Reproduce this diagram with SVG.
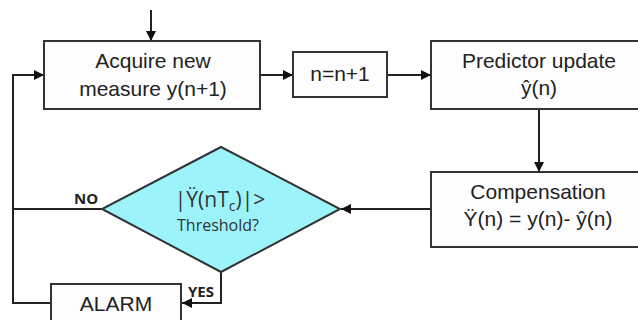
<svg xmlns="http://www.w3.org/2000/svg" width="638" height="320" viewBox="0 0 638 320">
<defs>
<marker id="ah" viewBox="0 0 10 10" refX="10" refY="5" markerWidth="10" markerHeight="10" markerUnits="userSpaceOnUse" orient="auto">
<path d="M0,0 L10,5 L0,10 z" fill="#111"/>
</marker>
</defs>
<style>
.box{fill:#fdfdfd;stroke:#333;stroke-width:2}
.t{font-family:"Liberation Sans",Arial,sans-serif;font-size:21px;fill:#222;text-anchor:middle}
.c{fill:none;stroke:#222;stroke-width:2}
.lb{font-family:"Open Sans","Noto Sans",sans-serif;font-weight:bold;font-size:15px;fill:#222}
.d{font-family:"Open Sans","Noto Sans",sans-serif;fill:#333;text-anchor:middle}
</style>
<rect width="638" height="320" fill="#fff"/>
<g id="connectors">
<line class="c" x1="151" y1="10" x2="151" y2="41" marker-end="url(#ah)"/>
<line class="c" x1="260" y1="75" x2="293" y2="75" marker-end="url(#ah)"/>
<line class="c" x1="387" y1="75" x2="431" y2="75" marker-end="url(#ah)"/>
<line class="c" x1="539" y1="109" x2="539" y2="172" marker-end="url(#ah)"/>
<line class="c" x1="431" y1="209" x2="341" y2="209" marker-end="url(#ah)"/>
<polyline class="c" points="102,209 13,209"/>
<polyline class="c" points="221,272 221,303 182,303" marker-end="url(#ah)"/>
<polyline class="c" points="51,303 13,303 13,75 44,75" marker-end="url(#ah)"/>
<text class="lb" x="74" y="204">NO</text>
<text class="lb" x="188" y="297">YES</text>
</g>
<g id="acquire">
<rect class="box" x="44" y="41" width="216" height="68"/>
<text class="t" x="153" y="68">Acquire new</text>
<text class="t" x="153" y="96">measure y(n+1)</text>
</g>
<g id="increment">
<rect class="box" x="293" y="52" width="94" height="45"/>
<text class="t" x="340" y="81">n=n+1</text>
</g>
<g id="predictor">
<rect class="box" x="431" y="41" width="215" height="68"/>
<text class="t" x="539" y="68">Predictor update</text>
<text class="t" x="539" y="95">ŷ(n)</text>
</g>
<g id="compensation">
<rect class="box" x="431" y="172" width="215" height="75"/>
<text class="t" x="538" y="199">Compensation</text>
<text class="t" x="538" y="226">Ÿ(n) = y(n)- ŷ(n)</text>
</g>
<g id="decision">
<polygon points="221,147 340,209 221,272 102,209" fill="#9cf4fa" stroke="#333" stroke-width="2"/>
<text class="d" x="220" y="207" font-size="21">|Ÿ(nT<tspan font-size="14" dy="4">c</tspan><tspan dy="-4">)|&gt;</tspan></text>
<text class="d" x="218" y="231" font-size="16">Threshold?</text>
</g>
<g id="alarm">
<rect class="box" x="51" y="284" width="130" height="50"/>
<text class="t" x="116" y="311">ALARM</text>
</g>
</svg>
